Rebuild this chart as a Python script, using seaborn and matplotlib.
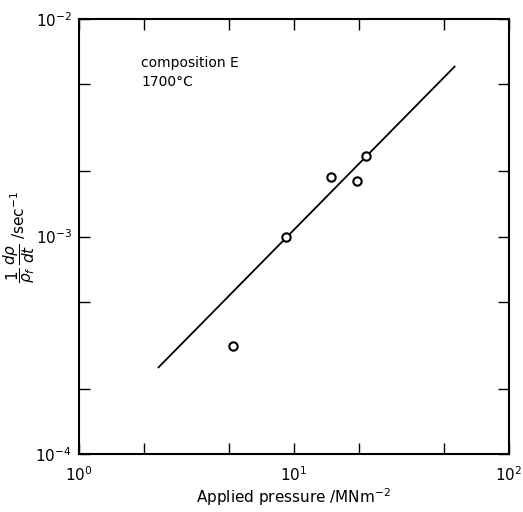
import matplotlib
matplotlib.use("Agg")
import matplotlib.pyplot as plt
import seaborn as sns
import pandas as pd
from matplotlib.ticker import LogLocator, NullFormatter

# data
pressure = [5.2, 9.2, 14.9, 19.6, 21.6]          # MN m^-2
rate = [3.15e-4, 9.9e-4, 1.87e-3, 1.80e-3, 2.35e-3]  # sec^-1
fit_pressure = [2.34, 56.0]
fit_rate = [2.5e-4, 6.05e-3]

sns.set_style("ticks")
plt.rcParams['font.family'] = ['DejaVu Sans']
plt.rcParams['text.color'] = 'black'
plt.rcParams['axes.labelcolor'] = 'black'
plt.rcParams['xtick.color'] = 'black'
plt.rcParams['ytick.color'] = 'black'

fig = plt.figure(figsize=(5.23, 5.12), dpi=100)
ax = fig.add_axes([0.151, 0.113, 0.822, 0.850])

pts = pd.DataFrame({"p": pressure, "r": rate})
fit = pd.DataFrame({"p": fit_pressure, "r": fit_rate})

sns.lineplot(data=fit, x="p", y="r", ax=ax, color="black", linewidth=1.3)
sns.scatterplot(data=pts, x="p", y="r", ax=ax, marker="o", s=36,
                facecolor="white", edgecolor="black", linewidth=1.5, zorder=3)

ax.set_xscale("log")
ax.set_yscale("log")
ax.set_xlim(1, 100)
ax.set_ylim(1e-4, 1e-2)

for axis in (ax.xaxis, ax.yaxis):
    axis.set_major_locator(LogLocator(base=10))
    axis.set_minor_locator(LogLocator(base=10, subs=(2.0, 5.0)))
    axis.set_minor_formatter(NullFormatter())

ax.tick_params(which="both", direction="in", top=True, right=True,
               color="black", labelcolor="black", width=1.0, labelsize=11,
               length=8)
ax.tick_params(axis="x", which="major", pad=8)
ax.tick_params(axis="y", which="major", pad=5)
for s in ax.spines.values():
    s.set_linewidth(1.5)
    s.set_color("black")

ax.set_xlabel(r"Applied pressure /MNm$^{-2}$", fontsize=11, labelpad=2, color="black")
ax.set_ylabel(r"$\dfrac{1}{\rho_f}\,\dfrac{d\rho}{dt}$ /sec$^{-1}$", fontsize=11,
              color="black", va="center")
ax.yaxis.set_label_coords(-0.14, 0.5)

ax.text(0.145, 0.898, "composition E", transform=ax.transAxes, fontsize=10,
        ha="left", va="center", color="black")
ax.text(0.145, 0.855, "1700°C", transform=ax.transAxes, fontsize=10,
        ha="left", va="center", color="black")

fig.savefig("out.png", dpi=100)
